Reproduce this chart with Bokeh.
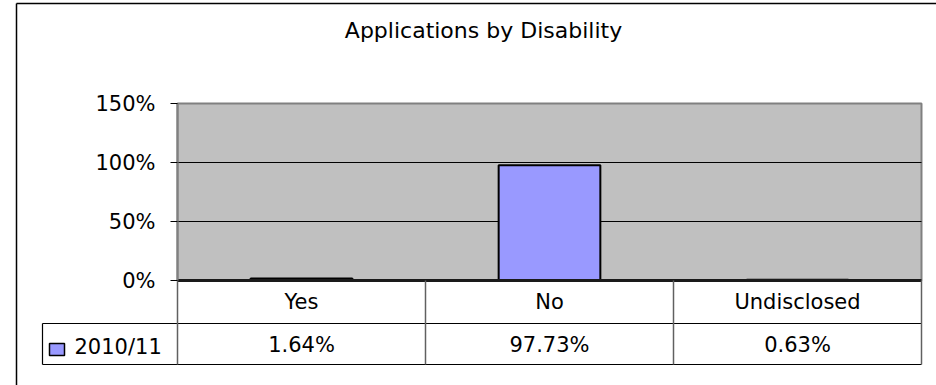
from bokeh.plotting import figure
from bokeh.models import Range1d, LinearAxis, FixedTicker, PrintfTickFormatter, ColumnDataSource
from bokeh.core.properties import value
from bokeh.embed import file_html
from bokeh.resources import INLINE

# ---- data ----
title_text = "Applications by Disability"
categories = ["Yes", "No", "Undisclosed"]
series_name = "2010/11"
values = [1.64, 97.73, 0.63]          # percent
y_ticks = [0, 50, 100, 150]           # percent

# ---- layout (pixels) ----
W, H = 936, 385
PL, PR, PT, PB = 177, 921, 103, 280   # plot area
ROW1, ROW2 = 323, 364                 # table row lines
LEG_LEFT = 42
FONT = "DejaVu Sans"
BAR = "#9999FF"
AREA = "#C0C0C0"

n = len(categories)
ymax = y_ticks[-1]
sx = (PR - PL) / n
sy = (PB - PT) / ymax


def X(px):
    return (px - PL) / sx


def Y(py):
    return (PB - py) / sy


p = figure(width=W, height=H,
           x_range=Range1d(X(0), X(W)), y_range=Range1d(Y(H), Y(0)),
           x_axis_type=None, y_axis_type=None,
           toolbar_location=None, output_backend="svg",
           min_border=0, background_fill_color="white",
           border_fill_color="white", outline_line_color=None)

# outer chart border
p.segment(x0=[X(16), X(16)], y0=[Y(3), Y(3)], x1=[X(16), X(W + 10)], y1=[Y(H + 10), Y(3)],
          line_color="black", line_width=1.5)

# plot area
p.quad(left=[0], right=[n], bottom=[0], top=[ymax], fill_color=AREA,
       line_color="#808080", line_width=2)

# gridlines
grid_vals = y_ticks[1:-1]
p.segment(x0=[0] * len(grid_vals), x1=[n] * len(grid_vals), y0=grid_vals, y1=grid_vals,
          line_color="black", line_width=1)

# bars
cat_x = [i + 0.5 for i in range(n)]
src = ColumnDataSource(dict(x=cat_x, top=values, cat=categories))
p.vbar(x="x", top="top", bottom=0, width=0.41, source=src,
       fill_color=BAR, line_color="black", line_width=2)

# zero line (category axis)
p.segment(x0=[0], x1=[n], y0=[0], y1=[0], line_color="#1a1a1a", line_width=3)

# data table lines
p.segment(x0=[X(LEG_LEFT)] * 2, x1=[n] * 2, y0=[Y(ROW1), Y(ROW2)], y1=[Y(ROW1), Y(ROW2)],
          line_color="black", line_width=1.2)
bounds = list(range(n + 1))
p.segment(x0=bounds, x1=bounds, y0=[0] * len(bounds), y1=[Y(ROW2)] * len(bounds),
          line_color="#606060", line_width=1.5)
p.segment(x0=[X(LEG_LEFT)], x1=[X(LEG_LEFT)], y0=[Y(ROW1)], y1=[Y(ROW2)],
          line_color="black", line_width=1.2)

# table texts
p.text(x=cat_x, y=[Y((PB + ROW1) / 2)] * n, text=categories,
       text_align="center", text_baseline="middle",
       text_font=value(FONT), text_font_size="21px", text_color="black")
p.text(x=cat_x, y=[Y((ROW1 + ROW2) / 2 + 1)] * n, text=[f"{v:.2f}%" for v in values],
       text_align="center", text_baseline="middle",
       text_font=value(FONT), text_font_size="21px", text_color="black")

# legend key
p.quad(left=[X(49)], right=[X(64)], top=[Y(343)], bottom=[Y(355)],
       fill_color=BAR, line_color="black", line_width=1.5)
p.text(x=[X(74)], y=[Y(346)], text=[series_name], text_align="left", text_baseline="middle",
       text_font=value(FONT), text_font_size="21px", text_color="black")

# title
p.text(x=[X(483)], y=[Y(30)], text=[title_text], text_align="center", text_baseline="middle",
       text_font=value(FONT), text_font_size="22px", text_color="black")

# y axis at the plot-area left edge
yaxis = LinearAxis(fixed_location=0, bounds=(0, ymax),
                   ticker=FixedTicker(ticks=y_ticks),
                   formatter=PrintfTickFormatter(format="%d%%"))
yaxis.major_tick_out = 7
yaxis.major_tick_in = 0
yaxis.minor_tick_out = 0
yaxis.minor_tick_in = 0
yaxis.axis_line_color = "#808080"
yaxis.axis_line_width = 2
yaxis.major_tick_line_color = "black"
yaxis.major_label_text_font = FONT
yaxis.major_label_text_font_size = "21px"
yaxis.major_label_text_color = "black"
yaxis.major_label_standoff = 15
p.add_layout(yaxis, "left")

open("out.html", "w").write(file_html(p, INLINE))
